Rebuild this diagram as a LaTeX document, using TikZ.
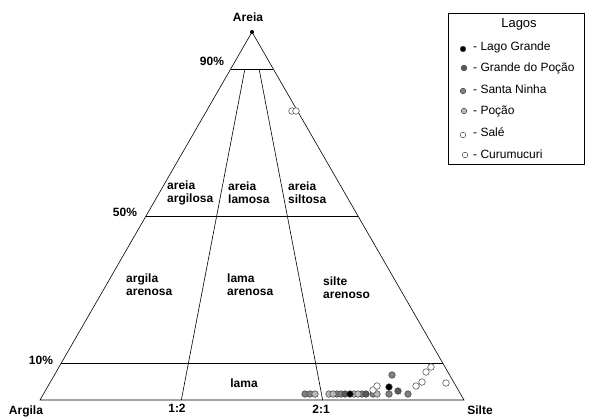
\documentclass[tikz,border=0pt]{standalone}
\usepackage{fontspec}
\setmainfont{Liberation Sans}
\usetikzlibrary{calc}
\begin{document}
\begin{tikzpicture}[x=1pt,y=-1pt,
	lbl/.style={font=\fontsize{12}{13}\selectfont\bfseries,inner sep=0pt},
	zone/.style={lbl,align=left,anchor=west},
	leg/.style={font=\fontsize{12}{14}\selectfont,inner sep=0pt,anchor=west},
	pt/.style={draw=black!75,line width=0.5pt},
	lg/.style={pt,fill=black},
	gp/.style={pt,fill=black!65},
	sn/.style={pt,fill=black!50},
	pc/.style={pt,fill=black!28},
	sl/.style={pt,fill=white},
	cu/.style={pt,fill=white}]
		\useasboundingbox (0,0) rectangle (593,418);
		\coordinate (A) at (252,32);
		\coordinate (L) at (40,400);
		\coordinate (R) at (464,400);

		% triangulo
		\draw[line width=0.6pt] (L) -- (A) -- (R) -- cycle;
		\fill (A) circle[radius=2pt];
		\coordinate (e90) at ($(L)!0.9!(A)$);
		\coordinate (d90) at ($(R)!0.9!(A)$);
		\coordinate (e50) at ($(L)!0.5!(A)$);
		\coordinate (d50) at ($(R)!0.5!(A)$);
		\coordinate (e10) at ($(L)!0.1!(A)$);
		\coordinate (d10) at ($(R)!0.1!(A)$);
		\draw[line width=0.6pt] (e90) -- (d90);
		\draw[line width=0.6pt] (e50) -- (d50);
		\draw[line width=0.6pt] (e10) -- (d10);
		\draw[line width=0.6pt] ($(e90)!1/3!(d90)$) -- ($(L)!1/3!(R)$);
		\draw[line width=0.6pt] ($(e90)!2/3!(d90)$) -- ($(L)!2/3!(R)$);

		% rotulos
		\node[lbl] (areia) at (248,17) {Areia};
		\node[lbl] (p90) at (212,61) {90\%};
		\node[lbl] (p50) at (125,212) {50\%};
		\node[lbl] (p10) at (41,360) {10\%};
		\node[lbl] (argila) at (26,411) {Argila};
		\node[lbl] (r12) at (177,408) {1:2};
		\node[lbl] (r21) at (321,409) {2:1};
		\node[lbl] (silte) at (480,410) {Silte};
		\node[zone] (aa) at (167,193) {areia\\argilosa};
		\node[zone] (al) at (228,193) {areia\\lamosa};
		\node[zone] (as) at (288,193) {areia\\siltosa};
		\node[zone] (ga) at (126,285) {argila\\arenosa};
		\node[zone] (la) at (227,285) {lama\\arenosa};
		\node[zone] (sa) at (323,288) {silte\\arenoso};
		\node[lbl] (lama) at (244,383) {lama};

		% amostras
		\foreach \x/\y in {305/394,310/394,337/394,341/394,362/394,373/394,389/394,408/394,392/375}
			\draw[sn] (\x,\y) circle[radius=3.3pt];
		\foreach \x/\y in {315/394,329/394,333/394,354/394,358/394,377/394}
			\draw[pc] (\x,\y) circle[radius=3.3pt];
		\foreach \x/\y in {345/394,366/394,398/391}
			\draw[gp] (\x,\y) circle[radius=3.3pt];
		\foreach \x/\y in {350/394,389/387}
			\draw[lg] (\x,\y) circle[radius=3.3pt];
		\foreach \x/\y in {292/111,296/111,416/386,422/382,446/383}
			\draw[sl] (\x,\y) circle[radius=3.3pt];
		\foreach \x/\y in {373/390,377/386,426/372,431/367}
			\draw[cu] (\x,\y) circle[radius=3.3pt];

		% legenda
		\draw[line width=0.6pt] (448,13) rectangle (584,164);
		\node[font=\fontsize{13}{15}\selectfont] (lagos) at (519,24) {Lagos};
		\draw[lg] (463,49) circle[radius=2.8pt];
		\node[leg] (tlg) at (473,47) {- Lago Grande};
		\draw[gp] (464,68) circle[radius=2.8pt];
		\node[leg] (tgp) at (473,68) {- Grande do Poção};
		\draw[sn] (463,91) circle[radius=2.8pt];
		\node[leg] (tsn) at (473,89) {- Santa Ninha};
		\draw[pc] (464,111) circle[radius=2.8pt];
		\node[leg] (tpc) at (473,111) {- Poção};
		\draw[sl] (463,135) circle[radius=2.8pt];
		\node[leg] (tsl) at (473,132) {- Salé};
		\draw[cu] (465,155) circle[radius=2.8pt];
		\node[leg] (tcu) at (473,154) {- Curumucuri};
	\end{tikzpicture}
\end{document}
